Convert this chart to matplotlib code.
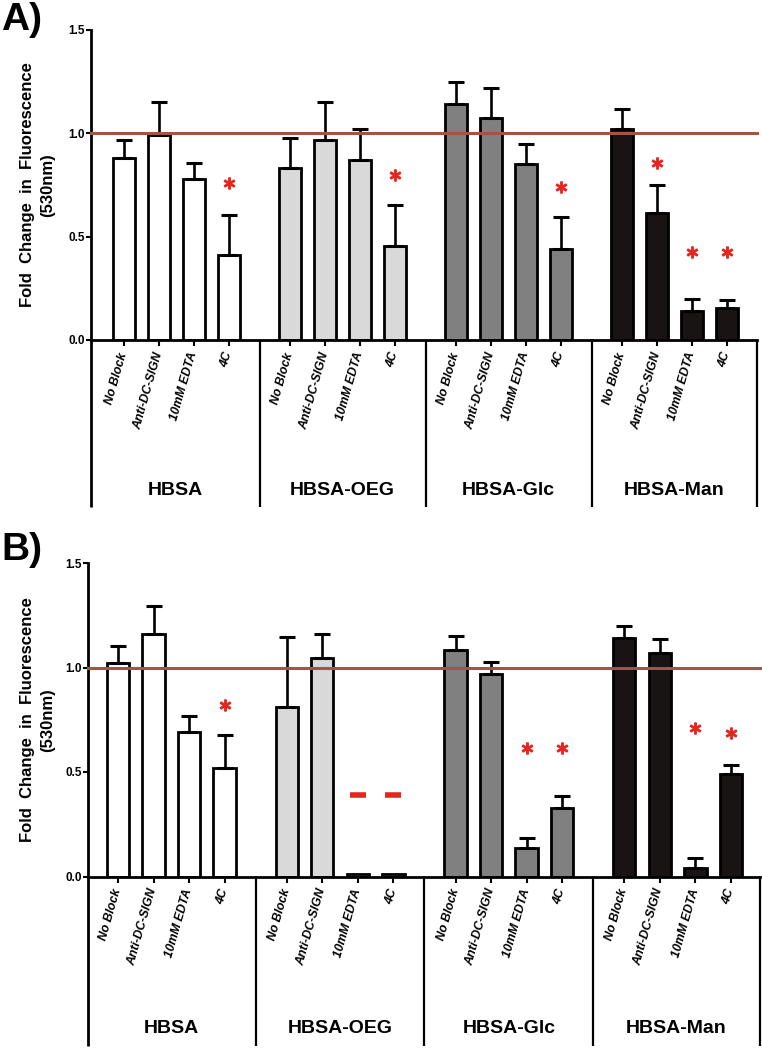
import matplotlib
matplotlib.use("Agg")
import matplotlib.pyplot as plt
import matplotlib.transforms as mtransforms
import numpy as np

plt.rcParams['font.family'] = ['Liberation Sans', 'DejaVu Sans']

# ---------------- data ----------------
groups = ["HBSA", "HBSA-OEG", "HBSA-Glc", "HBSA-Man"]
conditions = ["No Block", "Anti-DC-SIGN", "10mM EDTA", "4C"]
group_colors = ["#ffffff", "#d9d9d9", "#808080", "#1a1313"]

# Panel A: means and upper SEM
a_means = [[0.88, 0.99, 0.78, 0.41],
           [0.83, 0.97, 0.87, 0.455],
           [1.14, 1.075, 0.85, 0.44],
           [1.02, 0.615, 0.142, 0.155]]
a_err = [[0.09, 0.16, 0.075, 0.195],
         [0.145, 0.18, 0.15, 0.20],
         [0.11, 0.145, 0.10, 0.153],
         [0.10, 0.137, 0.056, 0.038]]
# significance stars: (group, condition, y)
a_stars = [(0, 3, 0.758), (1, 3, 0.80), (2, 3, 0.74),
           (3, 1, 0.857), (3, 2, 0.424), (3, 3, 0.424)]
a_dashes = []

# Panel B
b_means = [[1.02, 1.16, 0.693, 0.518],
           [0.809, 1.044, 0.01, 0.01],
           [1.084, 0.967, 0.138, 0.326],
           [1.14, 1.071, 0.039, 0.49]]
b_err = [[0.083, 0.134, 0.076, 0.159],
         [0.338, 0.115, 0.0, 0.0],
         [0.067, 0.058, 0.045, 0.059],
         [0.059, 0.065, 0.048, 0.043]]
b_stars = [(0, 3, 0.82), (2, 2, 0.613), (2, 3, 0.615),
           (3, 2, 0.709), (3, 3, 0.688)]
b_dashes = [(1, 2, 0.39), (1, 3, 0.39)]

yticks = [0.0, 0.5, 1.0, 1.5]
ytick_labels = ["0.0", "0.5", "1.0", "1.5"]
ref_level = 1.0

GROUP_STEP = 4.75
RED = "#e5261f"
REF = "#a3553e"

W, H = 762, 1050
fig = plt.figure(figsize=(W / 100, H / 100), dpi=100)


def pos(g, i):
    return g * GROUP_STEP + i


def draw_panel(ax, means, errs, stars, dashes, xlim):
    xs_all, labels_all = [], []
    for g in range(len(groups)):
        xs = [pos(g, i) for i in range(len(conditions))]
        ax.bar(xs, means[g], width=0.63, color=group_colors[g],
               edgecolor="black", linewidth=2.0, zorder=2)
        ex = [x for x, e in zip(xs, errs[g]) if e > 0]
        ey = [m for m, e in zip(means[g], errs[g]) if e > 0]
        ee = [e for e in errs[g] if e > 0]
        if ex:
            ax.errorbar(ex, ey, yerr=[np.zeros(len(ee)), ee], fmt="none",
                        ecolor="black", elinewidth=1.9, capsize=6,
                        capthick=2.2, zorder=3)
        xs_all += xs
        labels_all += conditions
    ax.axhline(ref_level, color=REF, lw=2.2, zorder=4, clip_on=False)
    for g, i, y in stars:
        ax.plot(pos(g, i), y, marker=r"$\ast$", color=RED, markersize=8,
                linestyle="none", zorder=5)
    for g, i, y in dashes:
        ax.plot(pos(g, i), y, marker="_", color=RED, markersize=11,
                markeredgewidth=4, linestyle="none", zorder=5)

    ax.set_xlim(*xlim)
    ax.set_ylim(0, 1.5)
    ax.set_yticks(yticks)
    ax.set_yticklabels(ytick_labels, fontsize=8.5, fontweight="bold")
    ax.set_xticks(xs_all)
    ax.set_xticklabels(labels_all, rotation=74, ha="right", va="center",
                       rotation_mode="anchor", fontsize=8.8,
                       fontweight="bold", fontstyle="italic")
    ax.tick_params(axis="x", direction="out", length=4, width=1.5, pad=5)
    ax.tick_params(axis="y", direction="out", length=3.5, width=1.5, pad=1)
    for s in ["top", "right"]:
        ax.spines[s].set_visible(False)
    ax.spines["left"].set_linewidth(2.0)
    ax.spines["bottom"].set_linewidth(2.0)

    trans = mtransforms.blended_transform_factory(ax.transData, ax.transAxes)
    seps = [xlim[0]] + [pos(g, 0) - (GROUP_STEP - 3) / 2 for g in range(1, len(groups))] + [xlim[1]]
    for k, xv in enumerate(seps):
        lw = 2.0 if k == 0 else 1.6
        ax.plot([xv, xv], [0, -0.54], transform=trans, color="black",
                lw=lw, clip_on=False, solid_capstyle="butt")
    for g, name in enumerate(groups):
        cx = (seps[g] + seps[g + 1]) / 2
        ax.text(cx, -0.484, name, transform=trans, ha="center", va="center",
                fontsize=14, fontweight="bold")


axA = fig.add_axes([91 / W, 1 - 340 / H, (757 - 91) / W, 310 / H])
draw_panel(axA, a_means, a_err, a_stars, a_dashes, (-0.95, 18.11))

axB = fig.add_axes([88 / W, 1 - 876.5 / H, (760 - 88) / W, 313.5 / H])
draw_panel(axB, b_means, b_err, b_stars, b_dashes, (-0.845, 18.07))

ylabel = "Fold  Change  in  Fluorescence\n(530nm)"
fig.text(37.5 / W, 1 - 185 / H, ylabel, rotation=90, ha="center", va="center",
         multialignment="center", fontsize=12, fontweight="bold",
         linespacing=1.45)
fig.text(37.5 / W, 1 - 720 / H, ylabel, rotation=90, ha="center", va="center",
         multialignment="center", fontsize=12, fontweight="bold",
         linespacing=1.45)

fig.text(1 / W, 1 - 2 / H, "A)", ha="left", va="top", fontsize=28,
         fontweight="bold")
fig.text(1 / W, 1 - 532 / H, "B)", ha="left", va="top", fontsize=28,
         fontweight="bold")

fig.savefig("out.png", dpi=100)
